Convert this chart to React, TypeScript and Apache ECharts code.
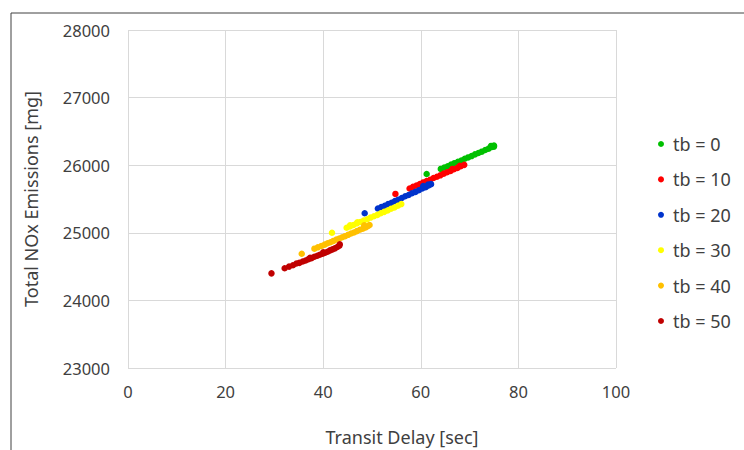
import React, { useEffect, useRef } from "react";
import * as echarts from "echarts";

const seriesNames = ["tb = 0", "tb = 10", "tb = 20", "tb = 30", "tb = 40", "tb = 50"];
const seriesColors = ["#00c000", "#ff0000", "#0033cc", "#ffff00", "#ffc000", "#c00000"];

const tb0: number[][] = [
  [61.2, 25870], [64.1, 25945], [64.8, 25965], [65.5, 25985], [66.2, 26010], [66.9, 26030],
  [67.6, 26050], [68.3, 26070], [69.0, 26095], [69.7, 26115], [70.4, 26135], [71.1, 26160],
  [71.8, 26180], [72.5, 26200], [73.2, 26225], [73.9, 26245], [74.6, 26270], [75.0, 26290],
  [74.4, 26285], [75.0, 26275],
];
const tb10: number[][] = [
  [54.8, 25575], [57.7, 25655], [58.4, 25680], [59.1, 25700], [59.8, 25720], [60.5, 25745],
  [61.2, 25765], [61.9, 25785], [62.6, 25810], [63.3, 25830], [64.0, 25850], [64.7, 25875],
  [65.4, 25895], [66.1, 25915], [66.8, 25940], [67.5, 25960], [68.2, 25985], [68.9, 26005],
  [68.0, 25990], [66.5, 25945],
];
const tb20: number[][] = [
  [48.5, 25290], [51.2, 25360], [51.9, 25380], [52.6, 25400], [53.3, 25425], [54.0, 25445],
  [54.7, 25470], [55.4, 25490], [56.1, 25515], [56.8, 25540], [57.5, 25560], [58.2, 25585],
  [58.9, 25605], [59.6, 25630], [60.3, 25655], [61.0, 25675], [61.6, 25700], [62.1, 25720],
  [60.5, 25690], [61.5, 25715],
];
const tb30: number[][] = [
  [41.8, 25000], [44.8, 25075], [45.5, 25095], [46.2, 25115], [46.9, 25140], [47.6, 25160],
  [48.3, 25180], [49.0, 25200], [49.7, 25225], [50.4, 25245], [51.1, 25265], [51.8, 25290],
  [52.5, 25310], [53.2, 25330], [53.9, 25355], [54.6, 25375], [55.3, 25400], [56.0, 25425],
  [45.5, 25110], [47.0, 25155],
];
const tb40: number[][] = [
  [35.6, 24690], [38.2, 24765], [38.9, 24785], [39.6, 24805], [40.3, 24825], [40.9, 24845],
  [41.5, 24860], [42.1, 24880], [42.7, 24900], [43.3, 24915], [43.9, 24935], [44.5, 24950],
  [45.1, 24970], [45.7, 24990], [46.3, 25005], [46.9, 25025], [47.5, 25045], [48.1, 25060],
  [48.7, 25080], [49.2, 25100], [49.5, 25115], [48.4, 25110],
];
const tb50: number[][] = [
  [29.4, 24400], [32.1, 24475], [33.0, 24500], [33.8, 24520], [34.5, 24545], [35.1, 24555],
  [35.8, 24575], [36.4, 24590], [37.0, 24610], [37.6, 24625], [38.2, 24645], [38.8, 24660],
  [39.3, 24675], [39.9, 24690], [40.4, 24705], [40.9, 24720], [41.4, 24740], [41.9, 24755],
  [42.4, 24770], [42.9, 24790], [43.3, 24810], [43.4, 24830], [40.0, 24710], [37.3, 24630],
];
const seriesData = [tb0, tb10, tb20, tb30, tb40, tb50];

const xTitle = "Transit Delay [sec]";
const yTitle = "Total NOx Emissions [mg]";

const FONT = "'Noto Sans', sans-serif";
const TEXT = "#404040";

export default function App() {
  const ref = useRef<HTMLDivElement>(null);
  useEffect(() => {
    if (!ref.current) return;
    const chart = echarts.init(ref.current, undefined, { renderer: "svg" });
    chart.setOption({
      animation: false,
      backgroundColor: "#ffffff",
      textStyle: { fontFamily: FONT },
      graphic: [
        {
          type: "rect",
          shape: { x: 11, y: 13, width: 800, height: 500 },
          style: { fill: "none", stroke: "#404040", lineWidth: 1 },
          silent: true,
        },
        {
          type: "text",
          x: 402,
          y: 437,
          style: {
            text: xTitle,
            fontFamily: FONT,
            fontSize: 18,
            fill: TEXT,
            textAlign: "center",
            textVerticalAlign: "middle",
          },
          silent: true,
        },
      ],
      grid: { left: 128, right: 128, top: 30, bottom: 82, containLabel: false },
      legend: {
        orient: "vertical",
        left: 658,
        top: 133,
        padding: 0,
        itemWidth: 14,
        itemHeight: 6,
        itemGap: 13.4,
        icon: "circle",
        textStyle: { fontFamily: FONT, fontSize: 18, color: TEXT, lineHeight: 22 },
        data: seriesNames,
      },
      xAxis: {
        type: "value",
        min: 0,
        max: 100,
        interval: 20,
        axisLine: { show: false },
        axisTick: { show: false },
        axisLabel: { fontFamily: FONT, fontSize: 16.5, color: TEXT, margin: 15 },
        splitLine: { show: true, lineStyle: { color: "#d9d9d9", width: 1 } },
      },
      yAxis: {
        type: "value",
        min: 23000,
        max: 28000,
        interval: 1000,
        name: yTitle,
        nameLocation: "middle",
        nameGap: 88,
        nameRotate: 90,
        nameTextStyle: { fontFamily: FONT, fontSize: 18, color: TEXT },
        axisLine: { show: false },
        axisTick: { show: false },
        axisLabel: {
          fontFamily: FONT,
          fontSize: 16.5,
          color: TEXT,
          margin: 18,
          formatter: (v: number) => String(v),
        },
        splitLine: { show: true, lineStyle: { color: "#d9d9d9", width: 1 } },
      },
      series: seriesNames.map((name, i) => ({
        name,
        type: "scatter",
        data: seriesData[i],
        symbol: "circle",
        symbolSize: 6.5,
        itemStyle: { color: seriesColors[i], opacity: 1 },
      })),
    });
    return () => chart.dispose();
  }, []);
  return (
    <div
      ref={ref}
      style={{ position: "fixed", left: 0, top: 0, width: 744, height: 450, background: "#fff" }}
    />
  );
}
